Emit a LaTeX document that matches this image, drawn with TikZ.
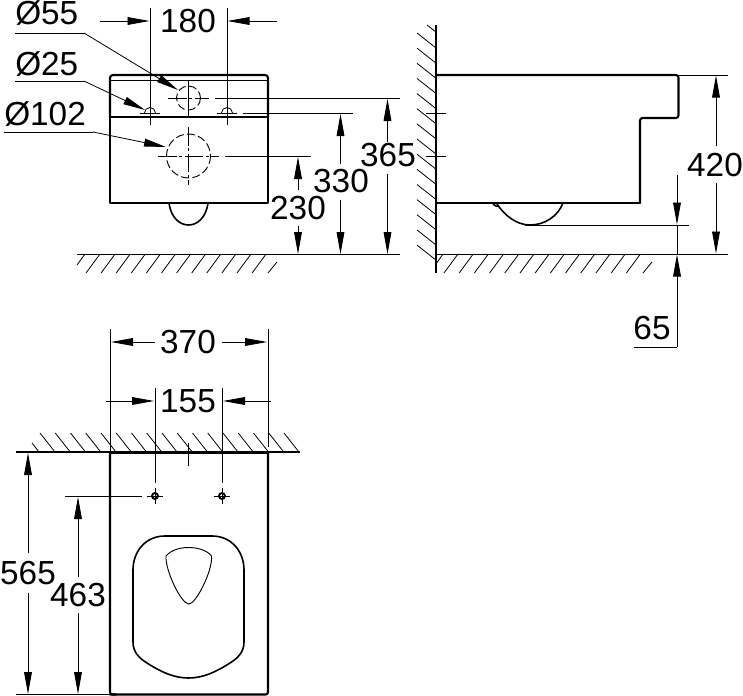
\documentclass[tikz,border=0pt]{standalone}
\usepackage{fontspec}
\setmainfont{Liberation Sans}
\usetikzlibrary{arrows.meta}
\tikzset{
  thin line/.style={line width=0.6pt,line cap=butt},
  thick outline/.style={line width=1.6pt,line join=round,line cap=round},
  medium outline/.style={line width=1.2pt,line join=round},
  dimarrow/.style={thin line,-{Triangle[length=16.5pt,width=5.8pt]}},
  hatching/.style={line width=0.6pt},
  centre line/.style={line width=0.6pt,dash pattern=on 14pt off 2pt on 2pt off 2pt},
  hidden/.style={line width=0.7pt,dash pattern=on 6pt off 2.5pt},
  dimtext/.style={font=\fontsize{25}{25}\selectfont,inner sep=0pt},
}
\begin{document}
\begin{tikzpicture}[x=0.75pt,y=-0.75pt]
\useasboundingbox (0,0) rectangle (743,696);
\fill[white] (0,0) rectangle (743,696);

%% FRONT VIEW
\draw[thick outline,rounded corners=2.2pt] (110,117) -- (110,75) -- (268,75) -- (268,117);
\draw[thick outline] (110,117) -- (110,203) -- (268,203) -- (268,117);
\draw[thick outline] (110,117) -- (268,117);
\draw[thin line] (110,80) -- (268,80);
\draw[medium outline] (169,203) .. controls (171,218) and (180,225) .. (188.5,225) .. controls (197,225) and (206,218) .. (208,203);
% holes
\draw[hidden] (188.5,98) circle[radius=12];
\draw[hidden] (188.5,156) circle[radius=22];
\draw[thin line] (144.5,113) arc[start angle=180,end angle=360,radius=5.5];
\draw[thin line] (221.5,113) arc[start angle=180,end angle=360,radius=5.5];
\draw[centre line] (168,98) -- (209,98);
\draw[thin line] (215,98) -- (400,98);
\draw[thin line] (188.5,80) -- (188.5,117);
\draw[thin line] (140,113) -- (160,113);
\draw[thin line] (217,113) -- (237,113);
\draw[thin line] (243,113) -- (353,113);
\draw[centre line] (158,156) -- (219,156);
\draw[thin line] (225,156) -- (311,156);
\draw[centre line] (188.5,127) -- (188.5,185);
% 180
\draw[thin line] (150,8) -- (150,125);
\draw[thin line] (227,8) -- (227,125);
\draw[dimarrow] (100,21) -- (149.5,21);
\draw[dimarrow] (277,21) -- (227.5,21);
\node[dimtext] (t180) at (188,21) {180};
% diameters
\node[dimtext,anchor=base west] (d55) at (15,25) {Ø55};
\node[dimtext,anchor=base west] (d25) at (15,75) {Ø25};
\node[dimtext,anchor=base west] (d102) at (4,125) {Ø102};
\draw[thin line] (15,33) -- (84,33);
\draw[dimarrow] (84,33) -- (178,90);
\draw[thin line] (15,81) -- (84,81);
\draw[dimarrow] (84,81) -- (145,110);
\draw[thin line] (4,132) -- (93,132);
\draw[dimarrow] (93,132) -- (166,147);
% ground
\draw[thin line] (77,254) -- (400,254);
\draw[hatching] (77,265) -- (85,254);
\foreach \i in {0,...,11} { \draw[hatching] ({86+15.1*\i},273) -- ({100+15.1*\i},254); }
\draw[hatching] (268,273) -- (277,262);
% vertical dimensions
\draw[dimarrow] (298,190) -- (298,157);
\draw[dimarrow] (298,226) -- (298,254);
\node[dimtext] (t230) at (298,208) {230};
\draw[dimarrow] (340.5,164) -- (340.5,114);
\draw[dimarrow] (340.5,200) -- (340.5,254);
\node[dimtext] (t330) at (341,181) {330};
\draw[dimarrow] (387.5,142) -- (387.5,99);
\draw[dimarrow] (387.5,174) -- (387.5,254);
\node[dimtext] (t365) at (388,155) {365};

%% SIDE VIEW
\draw[line width=1pt] (436,25) -- (436,273);
\draw[hatching] (427,25) -- (436,32);
\foreach \i in {0,...,14} { \draw[hatching] (417,{33+15.15*\i}) -- (436,{48+15.15*\i}); }
\draw[thick outline,rounded corners=2pt] (436,75) -- (678.5,75) -- (678.5,118) -- (640,118) -- (640,203);
\draw[medium outline] (640,203) -- (436,203);
\draw[medium outline] (493,204) .. controls (495,206) and (497,207) .. (499,206);
\draw[medium outline] (497,204) .. controls (505,216) and (517,225) .. (530,225) .. controls (545,225) and (558,216) .. (563,203);
\draw[thin line] (525,225) -- (689,225);
\draw[thin line] (426,113) -- (446,113);
\draw[thin line] (426,156) -- (446,156);
\draw[thin line] (678,75) -- (728,75);
\draw[thin line] (436,254) -- (728,254);
\draw[hatching] (436,264) -- (443,254);
\foreach \i in {0,...,12} { \draw[hatching] ({444+15.2*\i},273) -- ({458+15.2*\i},254); }
\draw[hatching] (643,273) -- (652,262);
% 420
\draw[dimarrow] (716,146) -- (716,75.5);
\draw[dimarrow] (716,183) -- (716,253.5);
\node[dimtext] (t420) at (715,165) {420};
% 65
\draw[dimarrow] (677,175) -- (677,224.5);
\draw[thin line] (677,225) -- (677,254);
\draw[dimarrow] (677,347) -- (677,254.5);
\node[dimtext] (t65) at (652,328) {65};
\draw[thin line] (634,347) -- (677,347);

%% PLAN VIEW
\draw[thin line] (110,329) -- (110,452);
\draw[thin line] (268,329) -- (268,447);
\draw[dimarrow] (155,342) -- (111,342);
\draw[dimarrow] (222,342) -- (267,342);
\node[dimtext] (t370) at (188,342) {370};
\draw[thin line] (155,388) -- (155,483);
\draw[thin line] (222,388) -- (222,483);
\draw[dimarrow] (106,401) -- (154,401);
\draw[dimarrow] (271,401) -- (223,401);
\node[dimtext] (t155) at (188,401) {155};
% wall
\draw[line width=0.8pt] (16,452) -- (300,452);
\draw[hatching] (32,443) -- (39,452);
\foreach \i in {0,...,16} { \draw[hatching] ({40+15.25*\i},433) -- ({55+15.25*\i},452); }
% body
\draw[thick outline,rounded corners=1.8pt] (110,694.5) -- (268,694.5) -- (268,452.5);
\draw[thick outline,rounded corners=1.8pt] (268,452.5) -- (110,452.5);
\draw[thick outline,rounded corners=1.8pt] (110,452.5) -- (110,694.5) -- (116,694.5);
\draw[thin line] (188.5,443) -- (188.5,466);
% fixing holes
\foreach \c in {155,222} {
  \draw[line width=1.4pt] (\c,496) circle[radius=3];
  \draw[thin line] (\c-8,496) -- (\c+8,496);
  \draw[thin line] (\c,488) -- (\c,504);
}
\draw[thin line] (65,496) -- (142,496);
% seat
\draw[medium outline] (165,536) -- (212,536) .. controls (232,536) and (244,552) .. (244,570) -- (244,642) .. controls (244,652) and (238,658) .. (230,663) .. controls (216,672) and (203,678) .. (188.5,678) .. controls (174,678) and (161,672) .. (147,663) .. controls (139,658) and (133,652) .. (133,642) -- (133,570) .. controls (133,552) and (145,536) .. (165,536) -- cycle;
\draw[line width=0.7pt] (166,556) .. controls (171,550) and (180,547.5) .. (188.5,547.5) .. controls (197,547.5) and (207,550) .. (211.5,556) .. controls (213,570) and (196,604) .. (189,604) .. controls (181,604) and (165,570) .. (166,556) -- cycle;
% 565
\draw[thin line] (16,694.5) -- (110,694.5);
\draw[dimarrow] (28,553) -- (28,453);
\draw[dimarrow] (28,593) -- (28,694);
\node[dimtext] (t565) at (28,573) {565};
% 463
\draw[dimarrow] (78,577) -- (78,497);
\draw[dimarrow] (78,613) -- (78,694);
\node[dimtext] (t463) at (78,595) {463};
\end{tikzpicture}
\end{document}
